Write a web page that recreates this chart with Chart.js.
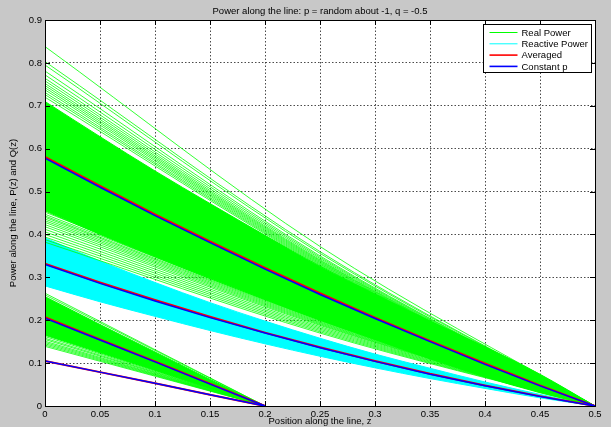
<!DOCTYPE html>
<html>
<head>
<meta charset="utf-8">
<script src="https://cdn.jsdelivr.net/npm/chart.js@4.4.0/dist/chart.umd.min.js"></script>
<style>
  html, body { margin: 0; padding: 0; background: #c8c8c8; }
</style>
</head>
<body>
<canvas id="powerChart" width="611" height="427"></canvas>
<script>
// positions along the line where the curves were read
var zFull = [0, 0.05, 0.1, 0.15, 0.2, 0.25, 0.3, 0.35, 0.4, 0.45, 0.5];
var zShort = [0, 0.05, 0.1, 0.15, 0.2];
var zThree = [0, 0.25, 0.5];
var zTwo = [0, 0.2];

// main curves, line length 0.5
var constantP = [0.578, 0.510, 0.444, 0.381, 0.319, 0.260, 0.204, 0.150, 0.097, 0.047, 0];
var averagedP = [0.581, 0.513, 0.447, 0.384, 0.322, 0.263, 0.206, 0.152, 0.099, 0.048, 0];
var constantQ = [0.330, 0.286, 0.245, 0.206, 0.170, 0.136, 0.104, 0.074, 0.047, 0.022, 0];
var averagedQ = [0.332, 0.288, 0.247, 0.208, 0.171, 0.137, 0.105, 0.075, 0.048, 0.023, 0];

// main curves, line length 0.2
var constantP2 = [0.205, 0.154, 0.103, 0.051, 0];
var averagedP2 = [0.207, 0.155, 0.104, 0.052, 0];
var constantQ2 = [0.105, 0.079, 0.053, 0.026, 0];
var averagedQ2 = [0.105, 0.079, 0.053, 0.026, 0];

// edges of the solid green / cyan bands
var realTop = [0.71, 0.628, 0.548, 0.472, 0.398, 0.326, 0.261, 0.198, 0.138, 0.074, 0];
var realBottom = [0.455, 0.4, 0.348, 0.297, 0.248, 0.2, 0.155, 0.11, 0.068, 0.031, 0];
var reactTop = [0.392, 0.338, 0.288, 0.241, 0.198, 0.158, 0.121, 0.088, 0.056, 0.027, 0];
var reactBottom = [0.28, 0.243, 0.209, 0.176, 0.145, 0.116, 0.089, 0.064, 0.041, 0.019, 0];
var real2Top = [0.255, 0.19, 0.126, 0.062, 0];
var real2Bottom = [0.165, 0.124, 0.083, 0.041, 0];

// single green lines outside the solid band (value at z=0 and z=0.25)
var realHighStart = [0.838, 0.803, 0.795, 0.781, 0.772, 0.764, 0.758, 0.752, 0.747, 0.742, 0.737, 0.731, 0.726, 0.72];
var realHighMid = [0.372, 0.36, 0.356, 0.35, 0.347, 0.344, 0.341, 0.339, 0.337, 0.335, 0.333, 0.331, 0.329, 0.327];
var realLowStart = [0.452, 0.447, 0.443, 0.44, 0.436, 0.432, 0.428, 0.423, 0.418, 0.412, 0.406, 0.4, 0.394, 0.388, 0.382];
var realLowMid = [0.205, 0.202, 0.2, 0.198, 0.196, 0.194, 0.192, 0.19, 0.188, 0.185, 0.182, 0.179, 0.176, 0.173, 0.17];
// single green lines of the short line (value at z=0)
var real2Start = [0.263, 0.259, 0.162, 0.158, 0.155, 0.151, 0.148, 0.145, 0.142, 0.139];

var xTickValues = [0, 0.05, 0.1, 0.15, 0.2, 0.25, 0.3, 0.35, 0.4, 0.45, 0.5];
var xTickLabels = ['0', '0.05', '0.1', '0.15', '0.2', '0.25', '0.3', '0.35', '0.4', '0.45', '0.5'];
var yTickValues = [0, 0.1, 0.2, 0.3, 0.4, 0.5, 0.6, 0.7, 0.8, 0.9];
var yTickLabels = ['0', '0.1', '0.2', '0.3', '0.4', '0.5', '0.6', '0.7', '0.8', '0.9'];

var legendLabels = ['Real Power', 'Reactive Power', 'Averaged', 'Constant p'];
var legendColors = ['#00ff00', '#00ffff', '#ff0000', '#0000ff'];
var legendWidths = [1, 1, 1.6, 1.6];

var GREEN = '#00ff00', CYAN = '#00ffff', RED = '#ff0000', BLUE = '#0000ff';
var FONT = "'Liberation Sans', Arial, sans-serif";

function toPoints(xs, ys) {
    return xs.map(function(x, i) { return { x: x, y: ys[i] }; });
}

function line(xs, ys, color, width, extra) {
    var ds = {
        data: toPoints(xs, ys),
        borderColor: color,
        backgroundColor: color,
        borderWidth: width,
        pointRadius: 0,
        fill: false,
        tension: 0
    };
    for (var k in extra) ds[k] = extra[k];
    return ds;
}

// first dataset is drawn on top
var datasets = [];
[constantP, constantQ].forEach(function(d) { datasets.push(line(zFull, d, BLUE, 1.5)); });
[constantP2, constantQ2].forEach(function(d) { datasets.push(line(zShort, d, BLUE, 1.5)); });
[averagedP, averagedQ].forEach(function(d) { datasets.push(line(zFull, d, RED, 2)); });
[averagedP2, averagedQ2].forEach(function(d) { datasets.push(line(zShort, d, RED, 2)); });

realHighStart.forEach(function(v, i) {
    datasets.push(line(zThree, [v, realHighMid[i], 0], GREEN, 0.8, { cubicInterpolationMode: 'monotone' }));
});
realLowStart.forEach(function(v, i) {
    datasets.push(line(zThree, [v, realLowMid[i], 0], GREEN, 0.8, { cubicInterpolationMode: 'monotone' }));
});
real2Start.forEach(function(v) {
    datasets.push(line(zTwo, [v, 0], GREEN, 0.8));
});

// solid bands: top edge filled down to the next dataset
datasets.push(line(zFull, realTop, GREEN, 1, { fill: '+1', cubicInterpolationMode: 'monotone' }));
datasets.push(line(zFull, realBottom, GREEN, 1, { cubicInterpolationMode: 'monotone' }));
datasets.push(line(zShort, real2Top, GREEN, 1, { fill: '+1' }));
datasets.push(line(zShort, real2Bottom, GREEN, 1));
datasets.push(line(zFull, reactTop, CYAN, 1, { fill: '+1', cubicInterpolationMode: 'monotone' }));
datasets.push(line(zFull, reactBottom, CYAN, 1, { cubicInterpolationMode: 'monotone' }));

var matlabLook = {
    id: 'matlabLook',
    beforeDraw: function(chart) {
        var ctx = chart.ctx, a = chart.chartArea;
        ctx.save();
        ctx.fillStyle = '#c8c8c8';
        ctx.fillRect(0, 0, chart.width, chart.height);
        ctx.fillStyle = '#ffffff';
        ctx.fillRect(a.left, a.top, a.right - a.left, a.bottom - a.top);
        ctx.restore();
    },
    afterDatasetsDraw: function(chart) {
        var ctx = chart.ctx, a = chart.chartArea;
        var xs = chart.scales.x, ys = chart.scales.y;
        ctx.save();
        ctx.strokeStyle = '#000';
        ctx.lineWidth = 1;
        ctx.beginPath();
        // inward tick marks on all four sides
        xTickValues.forEach(function(v) {
            var px = Math.round(xs.getPixelForValue(v)) + 0.5;
            ctx.moveTo(px, a.bottom); ctx.lineTo(px, a.bottom - 5);
            ctx.moveTo(px, a.top); ctx.lineTo(px, a.top + 5);
        });
        yTickValues.forEach(function(v) {
            var py = Math.round(ys.getPixelForValue(v)) + 0.5;
            ctx.moveTo(a.left, py); ctx.lineTo(a.left + 5, py);
            ctx.moveTo(a.right, py); ctx.lineTo(a.right - 5, py);
        });
        ctx.stroke();
        ctx.strokeRect(Math.round(a.left) + 0.5, Math.round(a.top) + 0.5,
            Math.round(a.right - a.left), Math.round(a.bottom - a.top));
        ctx.restore();
    },
    afterDraw: function(chart) {
        var ctx = chart.ctx, a = chart.chartArea;
        ctx.save();
        // title
        ctx.fillStyle = '#000';
        ctx.font = '9.5px ' + FONT;
        ctx.textAlign = 'center';
        ctx.textBaseline = 'middle';
        ctx.fillText('Power along the line: p = random about -1, q = -0.5', (a.left + a.right) / 2, 11);

        // legend box in the upper right corner
        var bx = 483.5, by = 24.5, bw = 108, bh = 48;
        ctx.fillStyle = '#ffffff';
        ctx.fillRect(bx, by, bw, bh);
        ctx.strokeStyle = '#000';
        ctx.lineWidth = 1;
        ctx.strokeRect(bx, by, bw, bh);
        ctx.textAlign = 'left';
        legendLabels.forEach(function(label, i) {
            var yy = by + 8 + i * 11.3;
            ctx.strokeStyle = legendColors[i];
            ctx.lineWidth = legendWidths[i];
            ctx.beginPath();
            ctx.moveTo(bx + 6, yy);
            ctx.lineTo(bx + 34, yy);
            ctx.stroke();
            ctx.fillStyle = '#000';
            ctx.fillText(label, bx + 38, yy + 0.5);
        });
        ctx.restore();
    }
};

var gridOpts = { color: 'rgba(30,30,30,0.8)', lineWidth: 1, drawTicks: false };

new Chart(document.getElementById('powerChart').getContext('2d'), {
    type: 'line',
    data: { datasets: datasets },
    plugins: [matlabLook],
    options: {
        responsive: false,
        animation: false,
        events: [],
        layout: { padding: { top: 20, right: 16, left: 0, bottom: 0 } },
        plugins: {
            legend: { display: false },
            tooltip: { enabled: false },
            title: { display: false }
        },
        scales: {
            x: {
                type: 'linear',
                min: 0,
                max: 0.5,
                afterFit: function(s) { s.height = 21; },
                afterBuildTicks: function(s) {
                    s.ticks = xTickValues.map(function(v) { return { value: v }; });
                },
                ticks: {
                    autoSkip: false,
                    maxRotation: 0,
                    padding: 3,
                    color: '#000',
                    font: { family: FONT, size: 9.5 },
                    callback: function(v, i) { return xTickLabels[i]; }
                },
                grid: gridOpts,
                border: { display: false, dash: [1.5, 2] },
                title: {
                    display: true,
                    text: 'Position along the line, z',
                    color: '#000',
                    padding: 0,
                    font: { family: FONT, size: 9.5 }
                }
            },
            y: {
                type: 'linear',
                min: 0,
                max: 0.9,
                afterFit: function(s) { s.width = 45; },
                afterBuildTicks: function(s) {
                    s.ticks = yTickValues.map(function(v) { return { value: v }; });
                },
                ticks: {
                    padding: 3,
                    color: '#000',
                    font: { family: FONT, size: 9.5 },
                    callback: function(v, i) { return yTickLabels[i]; }
                },
                grid: gridOpts,
                border: { display: false, dash: [1.5, 2] },
                title: {
                    display: true,
                    text: 'Power along the line, P(z) and Q(z)',
                    color: '#000',
                    padding: { top: 8, bottom: 0 },
                    font: { family: FONT, size: 9.5 }
                }
            }
        }
    }
});
</script>
</body>
</html>
